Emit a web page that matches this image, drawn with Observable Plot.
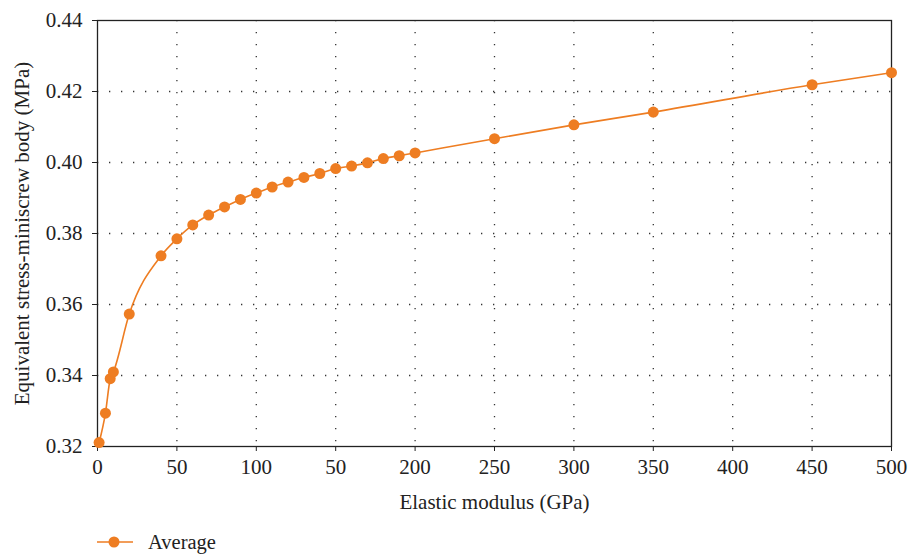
<!DOCTYPE html>
<html>
<head>
<meta charset="utf-8">
<script src="https://cdn.jsdelivr.net/npm/d3@7"></script>
<script src="https://cdn.jsdelivr.net/npm/@observablehq/plot@0.6"></script>
<style>
  html, body { margin: 0; padding: 0; background: #fff; }
  #chart { width: 912px; height: 556px; position: relative; font-family: "Liberation Serif", serif; }
  #legend { position: absolute; left: 97px; top: 529px; height: 26px; display: flex; align-items: center; font-size: 20.5px; color: #222; font-family: "Liberation Serif", serif; }
  #legend svg { margin-right: 15px; }
</style>
</head>
<body>
<div id="chart"></div>
<script>
const modulus = [1, 5, 8, 10, 20, 40, 50, 60, 70, 80, 90, 100, 110, 120, 130, 140, 150, 160, 170, 180, 190, 200, 250, 300, 350, 450, 500];
const stressAverage = [0.3211, 0.3294, 0.3391, 0.3410, 0.3573, 0.3737, 0.3785, 0.3824, 0.3852, 0.3875, 0.3896, 0.3914, 0.3931, 0.3945, 0.3958, 0.3969, 0.3983, 0.3990, 0.3999, 0.4011, 0.4019, 0.4027, 0.4067, 0.4106, 0.4142, 0.4219, 0.4253];
const xTicks = [0, 50, 100, 150, 200, 250, 300, 350, 400, 450, 500];
const xTickLabels = ["0", "50", "100", "50", "200", "250", "300", "350", "400", "450", "500"];
const yTicks = [0.32, 0.34, 0.36, 0.38, 0.40, 0.42, 0.44];
const seriesName = "Average";
const xTitle = "Elastic modulus (GPa)";
const yTitle = "Equivalent stress-miniscrew body (MPa)";

const data = modulus.map((m, i) => ({x: m, y: stressAverage[i]}));
const orange = "#ee7d22";
const serif = "Liberation Serif";

const plot = Plot.plot({
  width: 912,
  height: 530,
  marginLeft: 97,
  marginRight: 21,
  marginTop: 20,
  marginBottom: 84,
  style: {fontFamily: serif, fontSize: "21px", color: "#222", background: "#fff"},
  x: {domain: [0, 500]},
  y: {domain: [0.32, 0.44]},
  marks: [
    Plot.ruleX(xTicks.slice(1, -1), {stroke: "#333", strokeWidth: 1.3, strokeDasharray: "1.3,10.7"}),
    Plot.ruleY(yTicks.slice(1, -1), {stroke: "#333", strokeWidth: 1.3, strokeDasharray: "1.3,10.7"}),
    Plot.axisX({ticks: xTicks, tickFormat: (d, i) => xTickLabels[i], tickSize: 5, tickPadding: 8, fontSize: 21, fontFamily: serif,
      label: xTitle, labelAnchor: "center", labelArrow: "none", labelOffset: 62, stroke: "#222", color: "#222"}),
    Plot.axisY({ticks: yTicks, tickFormat: d3.format(".2f"), tickSize: 5, tickPadding: 10, fontSize: 21, fontFamily: serif,
      label: yTitle, labelAnchor: "center", labelArrow: "none", labelOffset: 83, stroke: "#222", color: "#222"}),
    Plot.frame({stroke: "#222", strokeWidth: 1.3}),
    Plot.line(data, {x: "x", y: "y", stroke: orange, strokeWidth: 1.6, curve: "monotone-x"}),
    Plot.dot(data, {x: "x", y: "y", fill: orange, r: 5.5})
  ]
});
document.getElementById("chart").appendChild(plot);

const legend = document.createElement("div");
legend.id = "legend";
legend.innerHTML = `<svg width="36" height="14"><line x1="0" y1="7" x2="36" y2="7" stroke="${orange}" stroke-width="1.6"/><circle cx="17" cy="7" r="5.5" fill="${orange}"/></svg><span>${seriesName}</span>`;
document.getElementById("chart").appendChild(legend);
</script>
</body>
</html>
